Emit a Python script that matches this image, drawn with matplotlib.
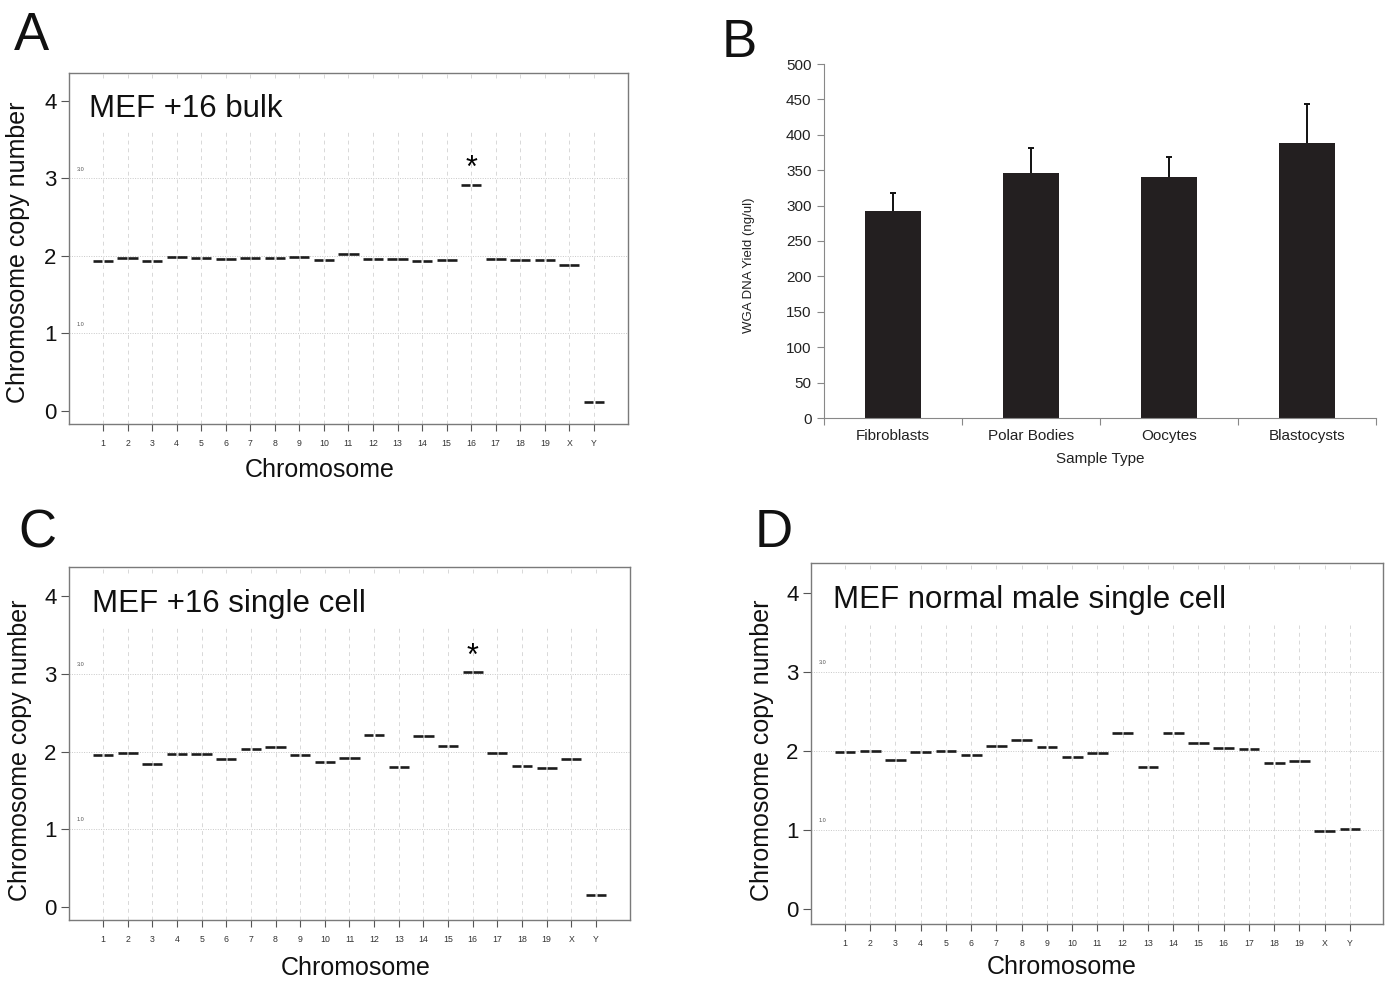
import matplotlib
matplotlib.use('Agg')
import matplotlib.pyplot as plt
import numpy as np

plt.rcParams['font.family'] = ['Liberation Sans', 'DejaVu Sans']

# ---------------- data ----------------
chromosomes = [str(i) for i in range(1, 20)] + ['X', 'Y']
copy_bulk = [1.94, 1.97, 1.94, 1.99, 1.97, 1.96, 1.98, 1.97, 1.99, 1.95, 2.02,
             1.96, 1.96, 1.93, 1.95, 2.92, 1.96, 1.95, 1.95, 1.89, 0.12]
copy_single = [1.95, 1.98, 1.84, 1.97, 1.97, 1.91, 2.03, 2.06, 1.96, 1.86, 1.92,
               2.21, 1.80, 2.20, 2.07, 3.02, 1.98, 1.82, 1.79, 1.90, 0.15]
copy_normal = [1.99, 2.00, 1.89, 1.99, 2.00, 1.95, 2.06, 2.14, 2.05, 1.93, 1.98,
               2.23, 1.80, 2.23, 2.10, 2.04, 2.03, 1.85, 1.87, 0.99, 1.01]

sample_types = ['Fibroblasts', 'Polar Bodies', 'Oocytes', 'Blastocysts']
wga_yield = [292, 346, 340, 388]
wga_err = [26, 36, 29, 56]

# ---------------- figure ----------------
W, H = 1385, 981
fig = plt.figure(figsize=(W / 100, H / 100), dpi=100)


def px_axes(l, t, r, b):
    return fig.add_axes([l / W, 1 - b / H, (r - l) / W, (b - t) / H])


def ftext(x, y, s, **kw):
    return fig.text(x / W, 1 - y / H, s, **kw)


def cn_panel(box, xlim, ylim, values, title, title_xy, star, xlabel_xy, ylabel_xy):
    ax = px_axes(*box)
    x = np.arange(1, len(chromosomes) + 1)
    ax.set_xlim(*xlim)
    ax.set_ylim(*ylim)
    # vertical dashed guide lines (interrupted behind the title band)
    ax.vlines(x, ylim[0], 3.6, colors='#d8d8d8', lw=0.7,
              linestyles=(0, (4, 4)), zorder=1)
    ax.vlines(x, 4.3, ylim[1], colors='#d8d8d8', lw=0.7,
              linestyles=(0, (4, 4)), zorder=1)
    for yv in (1, 2, 3):
        ax.axhline(yv, color='#c8c8c8', lw=0.7, ls=(0, (1, 1.5)), zorder=1)
    for yv, lab in ((3, '3.0'), (1, '1.0')):
        ax.text(0.014, yv + 0.09, lab, transform=ax.get_yaxis_transform(),
                fontsize=4, color='#555555', va='bottom', ha='left')
    v = np.array(values)
    ax.hlines(v, x - 0.41, x - 0.03, colors='#1c1c1c', lw=1.9, zorder=3)
    ax.hlines(v, x + 0.03, x + 0.41, colors='#1c1c1c', lw=1.9, zorder=3)
    if star:
        ax.text(16, v[15] + 0.2, '*', ha='center', va='center', fontsize=22, zorder=4)
    ax.set_yticks([0, 1, 2, 3, 4])
    ax.set_yticklabels(['0', '1', '2', '3', '4'])
    ax.tick_params(axis='y', length=6, width=0.8, color='#555555', pad=3,
                   labelsize=16, labelcolor='#111111')
    ax.set_xticks(x)
    ax.set_xticklabels(chromosomes)
    ax.tick_params(axis='x', length=5, width=0.8, color='#555555', pad=6,
                   labelsize=6.3, labelcolor='#333333')
    for s in ax.spines.values():
        s.set_color('#7a7a7a')
        s.set_linewidth(1.0)
    ftext(title_xy[0], title_xy[1], title, fontsize=22.5, va='baseline', ha='left',
          color='#111111')
    ftext(xlabel_xy[0], xlabel_xy[1], 'Chromosome', fontsize=18, ha='center',
          va='center', color='#111111')
    ftext(ylabel_xy[0], ylabel_xy[1], 'Chromosome copy number', fontsize=18,
          rotation=90, ha='center', va='center', color='#111111')
    return ax


# Panel A
cn_panel((69, 73, 628, 424), (-0.385, 22.39), (-0.168, 4.361), copy_bulk,
         'MEF +16 bulk', (89, 117), True, (320, 470), (18, 252))
# Panel C
cn_panel((69, 567, 630, 920), (-0.379, 22.38), (-0.167, 4.373), copy_single,
         'MEF +16 single cell', (92, 612), True, (356, 968), (20, 750))
# Panel D
cn_panel((811, 563, 1383, 924), (-0.347, 22.31), (-0.19, 4.38), copy_normal,
         'MEF normal male single cell', (833, 608), False, (1062, 967), (762, 750))

# Panel B
axb = px_axes(824, 64, 1376, 418)
xb = np.arange(len(sample_types))
axb.bar(xb, wga_yield, width=0.4, color='#231f20', zorder=2)
eb = axb.errorbar(xb, wga_yield, yerr=[np.zeros(len(wga_err)), wga_err], fmt='none',
                  ecolor='#111111', elinewidth=1.4, capsize=2.5, capthick=1.4, zorder=3)
caps = eb[1]
if len(caps) == 2:
    caps[0].set_visible(False)
axb.set_xlim(-0.5, 3.5)
axb.set_ylim(0, 500)
axb.set_yticks(np.arange(0, 501, 50))
axb.set_xticks(np.arange(-0.5, 3.6, 1.0))
axb.set_xticklabels([])
axb.set_xticks(xb, minor=True)
axb.set_xticklabels(sample_types, minor=True)
axb.tick_params(axis='x', which='major', length=5, width=0.8, color='#888888')
axb.tick_params(axis='x', which='minor', length=0, pad=8, labelsize=11,
                labelcolor='#222222')
axb.tick_params(axis='y', length=5, width=0.8, color='#888888', pad=4,
                labelsize=11, labelcolor='#222222')
axb.spines['top'].set_visible(False)
axb.spines['right'].set_visible(False)
axb.spines['left'].set_color('#888888')
axb.spines['bottom'].set_color('#888888')
ftext(749, 265, 'WGA DNA Yield (ng/ul)', fontsize=9.5, rotation=90, ha='center',
      va='center', color='#222222')
ftext(1100, 459, 'Sample Type', fontsize=11, ha='center', va='center',
      color='#222222')

# Panel letters
for lab, (lx, ly) in {'A': (14, 50), 'B': (722, 57), 'C': (18, 547), 'D': (755, 547)}.items():
    ftext(lx, ly, lab, fontsize=38, va='baseline', ha='left', color='#111111')

fig.savefig('out.png', dpi=100, facecolor='white')
